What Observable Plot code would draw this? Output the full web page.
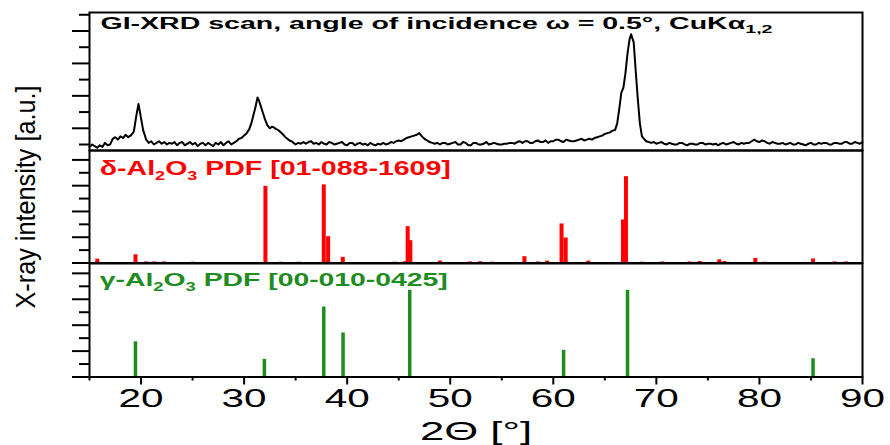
<!DOCTYPE html>
<html><head><meta charset="utf-8">
<script src="https://cdn.jsdelivr.net/npm/d3@7"></script>
<script src="https://cdn.jsdelivr.net/npm/@observablehq/plot@0.6"></script>
<style>
html,body{margin:0;padding:0;background:#fff;}
#wrap{position:relative;width:890px;height:445px;background:#fff;overflow:hidden;}
#wrap svg{position:absolute;left:0;overflow:visible;}
</style></head><body><div id="wrap"></div>
<script>
// ---- data ----
const scanAngle = [15.0,15.25,15.5,15.75,16.0,16.25,16.5,16.75,17.0,17.25,17.5,17.75,18.0,18.25,18.5,18.75,19.0,19.3,19.55,19.75,19.95,20.2,20.5,20.75,21.0,21.25,21.5,21.75,22.0,22.25,22.5,22.75,23.0,23.25,23.5,23.75,24.0,24.25,24.5,24.75,25.0,25.25,25.5,25.75,26.0,26.25,26.5,26.75,27.0,27.25,27.5,27.75,28.0,28.25,28.5,28.75,29.0,29.25,29.5,29.75,30.0,30.25,30.5,30.7,30.9,31.1,31.3,31.45,31.6,31.8,32.0,32.25,32.5,32.7,32.9,33.1,33.3,33.55,33.8,34.0,34.2,34.4,34.6,34.8,35.0,35.25,35.5,35.75,36.0,36.25,36.5,36.75,37.0,37.25,37.5,37.75,38.0,38.25,38.5,38.75,39.0,39.25,39.5,39.75,40.0,40.25,40.5,40.75,41.0,41.25,41.5,41.75,42.0,42.25,42.5,42.75,43.0,43.25,43.5,43.75,44.0,44.25,44.5,44.75,45.0,45.25,45.5,45.75,46.0,46.25,46.5,46.75,47.0,47.25,47.5,47.75,48.0,48.25,48.5,48.75,49.0,49.25,49.5,49.75,50.0,50.25,50.5,50.75,51.0,51.25,51.5,51.75,52.0,52.25,52.5,52.75,53.0,53.25,53.5,53.75,54.0,54.25,54.5,54.75,55.0,55.25,55.5,55.75,56.0,56.25,56.5,56.75,57.0,57.25,57.5,57.75,58.0,58.25,58.5,58.75,59.0,59.25,59.5,59.75,60.0,60.25,60.5,60.75,61.0,61.25,61.5,61.75,62.0,62.25,62.5,62.75,63.0,63.25,63.5,63.75,64.0,64.25,64.5,64.75,65.0,65.25,65.5,65.75,66.0,66.2,66.4,66.6,66.8,67.0,67.2,67.4,67.55,67.8,68.0,68.2,68.4,68.6,68.8,69.0,69.25,69.5,69.75,70.0,70.25,70.5,70.75,71.0,71.25,71.5,71.75,72.0,72.25,72.5,72.75,73.0,73.25,73.5,73.75,74.0,74.25,74.5,74.75,75.0,75.25,75.5,75.75,76.0,76.25,76.5,76.75,77.0,77.25,77.5,77.75,78.0,78.25,78.5,78.75,79.0,79.25,79.5,79.75,80.0,80.25,80.5,80.75,81.0,81.25,81.5,81.75,82.0,82.25,82.5,82.75,83.0,83.25,83.5,83.75,84.0,84.25,84.5,84.75,85.0,85.25,85.5,85.75,86.0,86.25,86.5,86.75,87.0,87.25,87.5,87.75,88.0,88.25,88.5,88.75,89.0,89.25,89.5,89.75,90.0];
const scanIntensity = [0.85,1.0,0.9,0.8,0.95,0.85,1.1,0.95,1.0,1.35,1.45,1.3,1.5,1.4,1.6,1.45,1.55,1.8,2.8,3.5,2.8,1.9,1.3,1.1,1.2,1.0,1.1,1.2,1.05,1.15,1.0,1.1,1.05,1.15,0.95,1.1,1.15,0.95,1.05,1.15,1.0,1.1,0.9,1.05,1.1,0.95,1.1,1.0,0.9,1.1,1.0,1.15,0.95,1.1,1.2,1.0,1.1,1.2,1.35,1.4,1.55,1.7,1.95,2.3,2.8,3.3,3.9,3.7,3.4,3.0,2.6,2.2,2.0,2.1,2.05,1.95,1.9,1.75,1.6,1.45,1.35,1.25,1.2,1.1,1.0,1.1,1.05,1.15,1.05,1.15,1.2,1.05,1.1,1.0,1.15,1.05,1.0,1.15,1.1,1.0,1.05,1.1,1.15,1.0,0.95,1.1,1.1,0.95,1.05,1.1,1.0,1.05,0.95,1.1,1.0,0.95,1.05,1.0,1.1,1.0,1.05,1.15,1.1,1.2,1.25,1.2,1.3,1.4,1.45,1.5,1.55,1.6,1.7,1.5,1.35,1.25,1.15,1.1,1.05,1.1,1.0,1.1,1.1,1.0,1.05,1.1,1.15,1.0,1.0,1.15,1.1,0.95,0.95,1.1,1.1,1.0,1.0,1.05,1.15,1.0,1.05,1.1,1.05,1.0,1.0,1.05,1.05,1.1,1.1,1.05,1.15,1.2,1.1,1.2,1.2,1.1,1.1,1.2,1.25,1.15,1.15,1.25,1.1,1.2,1.2,1.3,1.3,1.2,1.15,1.3,1.25,1.2,1.2,1.25,1.3,1.35,1.25,1.3,1.35,1.3,1.4,1.45,1.5,1.55,1.65,1.7,1.75,1.85,1.9,2.3,3.2,4.2,4.5,5.4,6.6,7.5,7.8,7.3,5.5,3.8,2.3,1.5,1.35,1.2,1.15,1.1,1.15,1.05,1.1,1.15,1.05,1.0,1.1,1.05,1.0,1.0,1.1,1.1,1.0,0.95,1.05,1.05,1.0,1.0,1.1,1.1,1.0,1.05,1.05,1.0,1.05,0.95,1.05,1.1,1.0,1.05,1.1,1.15,1.05,1.0,1.1,1.05,1.1,1.1,1.2,1.3,1.2,1.15,1.25,1.2,1.1,1.05,1.15,1.1,1.05,1.05,1.1,1.0,1.05,1.1,1.0,1.0,1.1,1.05,1.0,0.95,1.05,1.1,1.0,1.0,1.1,1.05,1.1,1.1,1.0,1.0,1.1,1.1,1.05,1.05,1.15,1.15,1.05,1.05,1.15,1.1,1.05,1.15];

const deltaAngle = [15.75,19.46,20.5,21.3,22.2,25.0,32.07,33.5,35.3,37.73,38.15,39.57,44.6,45.6,45.87,46.13,49.0,51.9,52.9,54.1,57.2,58.5,59.4,60.8,61.2,63.4,66.76,67.05,68.6,70.6,73.2,74.2,76.1,76.6,79.6,80.5,85.2,87.3,88.4];
const deltaIntensity = [0.3,0.64,0.08,0.08,0.08,0.06,5.95,0.06,0.06,6.06,2.04,0.44,0.06,0.1,2.82,1.73,0.15,0.08,0.1,0.06,0.49,0.08,0.15,3.03,1.94,0.15,3.34,6.7,0.06,0.08,0.08,0.12,0.25,0.12,0.36,0.06,0.31,0.08,0.08];

const gammaAngle = [19.46,31.97,37.73,39.6,46.07,61.0,67.2,85.2];
const gammaIntensity = [2.72,1.36,5.4,3.4,6.69,2.06,6.69,1.41];

const xMajorTicks = [20,30,40,50,60,70,80,90];
const xMinorTicks = [15,25,35,45,55,65,75,85];
const yTopMajor = [2,4,6,8], yTopMinor = [1,3,5,7,9];
const yMajor = [0,2,4,6,8], yMinor = [1,3,5,7];

const titleParts = [["GI-XRD scan, angle of incidence \u03c9 = 0.5\u00b0, CuK\u03b1", false], ["1,2", true]];
const deltaParts = [["\u03b4-Al", false], ["2", true], ["O", false], ["3", true], [" PDF [01-088-1609]", false]];
const gammaParts = [["\u03b3-Al", false], ["2", true], ["O", false], ["3", true], [" PDF [00-010-0425]", false]];
const yLabel = "X-ray intensity [a.u.]";
const xLabel = "2\u0398 [\u00b0]";

// ---- tables ----
const scan = scanAngle.map((a, i) => ({angle: a, intensity: scanIntensity[i]}));
const delta = deltaAngle.map((a, i) => ({angle: a, intensity: deltaIntensity[i]}));
const gamma = gammaAngle.map((a, i) => ({angle: a, intensity: gammaIntensity[i]}));

const RED = "#ff0000", GREEN = "#1e8c1e";
const FONT = "'Liberation Sans', Arial, Helvetica, sans-serif";
const common = {width: 890, marginLeft: 89, marginRight: 28,
  style: {fontFamily: FONT, background: "transparent", overflow: "visible", color: "black"}};
const noText = () => "";

function yAxes(major, minor) {
  return [
    Plot.axisY({ticks: major, tickSize: 17, tickFormat: noText, strokeWidth: 2, label: null}),
    Plot.axisY({ticks: minor, tickSize: 10, tickFormat: noText, strokeWidth: 2, label: null})
  ];
}
const joined = parts => parts.map(p => p[0]).join("");

const topPlot = Plot.plot({...common, height: 150, marginTop: 12, marginBottom: 0,
  x: {domain: [15, 90], axis: null},
  y: {domain: [0.63, 9.14]},
  marks: [
    Plot.line(scan, {x: "angle", y: "intensity", stroke: "black", strokeWidth: 2, strokeLinejoin: "round"}),
    ...yAxes(yTopMajor, yTopMinor),
    Plot.frame({stroke: "black", strokeWidth: 2}),
    Plot.text([joined(titleParts)], {frameAnchor: "top-left", textAnchor: "start", lineAnchor: "top",
      dx: 11, dy: 4.7, fontSize: 16, fontWeight: "bold", fill: "black"})
  ]});

const midPlot = Plot.plot({...common, height: 112.5, marginTop: 0, marginBottom: 0,
  x: {domain: [15, 90], axis: null},
  y: {domain: [0, 8.73]},
  marks: [
    Plot.ruleX(delta, {x: "angle", y1: 0, y2: "intensity", stroke: RED, strokeWidth: 4}),
    ...yAxes(yMajor, yMinor),
    Plot.frame({stroke: "black", strokeWidth: 2}),
    Plot.text([joined(deltaParts)], {frameAnchor: "top-left", textAnchor: "start", lineAnchor: "top",
      dx: 10.3, dy: 10, fontSize: 20.5, fontWeight: "bold", fill: RED}),
    Plot.text([yLabel], {frameAnchor: "left", textAnchor: "middle", lineAnchor: "middle", rotate: -90,
      dx: -63, dy: -9.75, fontSize: 28, fill: "black"})
  ]});

const botPlot = Plot.plot({...common, height: 182.5, marginTop: 0, marginBottom: 69,
  x: {domain: [15, 90]},
  y: {domain: [0, 8.76]},
  marks: [
    Plot.ruleX(gamma, {x: "angle", y1: 0, y2: "intensity", stroke: GREEN, strokeWidth: 3.5}),
    ...yAxes(yMajor, yMinor),
    Plot.axisX({ticks: xMajorTicks, tickSize: 8, tickPadding: 4, fontSize: 25, strokeWidth: 2, label: null}),
    Plot.axisX({ticks: xMinorTicks, tickSize: 4, tickFormat: noText, strokeWidth: 2, label: null}),
    Plot.frame({stroke: "black", strokeWidth: 2}),
    Plot.text([joined(gammaParts)], {frameAnchor: "top-left", textAnchor: "start", lineAnchor: "top",
      dx: 10.3, dy: 9.2, fontSize: 18.5, fontWeight: "bold", fill: GREEN}),
    Plot.text([xLabel], {frameAnchor: "bottom", textAnchor: "middle", lineAnchor: "top", dy: 45.7, fontSize: 25,
      fill: "black"})
  ]});

const wrap = document.getElementById("wrap");
[[topPlot, 0], [midPlot, 150], [botPlot, 262.5]].forEach(([svg, t]) => { svg.style.top = t + "px"; wrap.appendChild(svg); });

// ---- text post-processing (subscripts, stretched glyphs as in the reference) ----
const NS = "http://www.w3.org/2000/svg";
const textsWith = (svg, str) => [...svg.querySelectorAll("text")].filter(t => t.textContent === str);
function fitLength(t, len) {
  t.setAttribute("textLength", len);
  t.setAttribute("lengthAdjust", "spacingAndGlyphs");
}
function withSubs(svg, parts, subSize, shift, len) {
  textsWith(svg, joined(parts)).forEach(t => {
    t.textContent = "";
    let down = false;
    parts.forEach(([s, sub]) => {
      const ts = document.createElementNS(NS, "tspan");
      ts.textContent = s;
      if (sub) { ts.setAttribute("font-size", subSize); if (!down) ts.setAttribute("dy", shift); down = true; }
      else if (down) { ts.setAttribute("dy", -shift); down = false; }
      t.appendChild(ts);
    });
    fitLength(t, len);
  });
}
withSubs(topPlot, titleParts, 11, 4, 672);
withSubs(midPlot, deltaParts, 13, 5, 351);
withSubs(botPlot, gammaParts, 12, 5, 348);
xMajorTicks.forEach(v => textsWith(botPlot, String(v)).forEach(t => fitLength(t, 45)));
textsWith(botPlot, xLabel).forEach(t => fitLength(t, 112));
textsWith(midPlot, yLabel).forEach(t => fitLength(t, 223));
</script></body></html>
